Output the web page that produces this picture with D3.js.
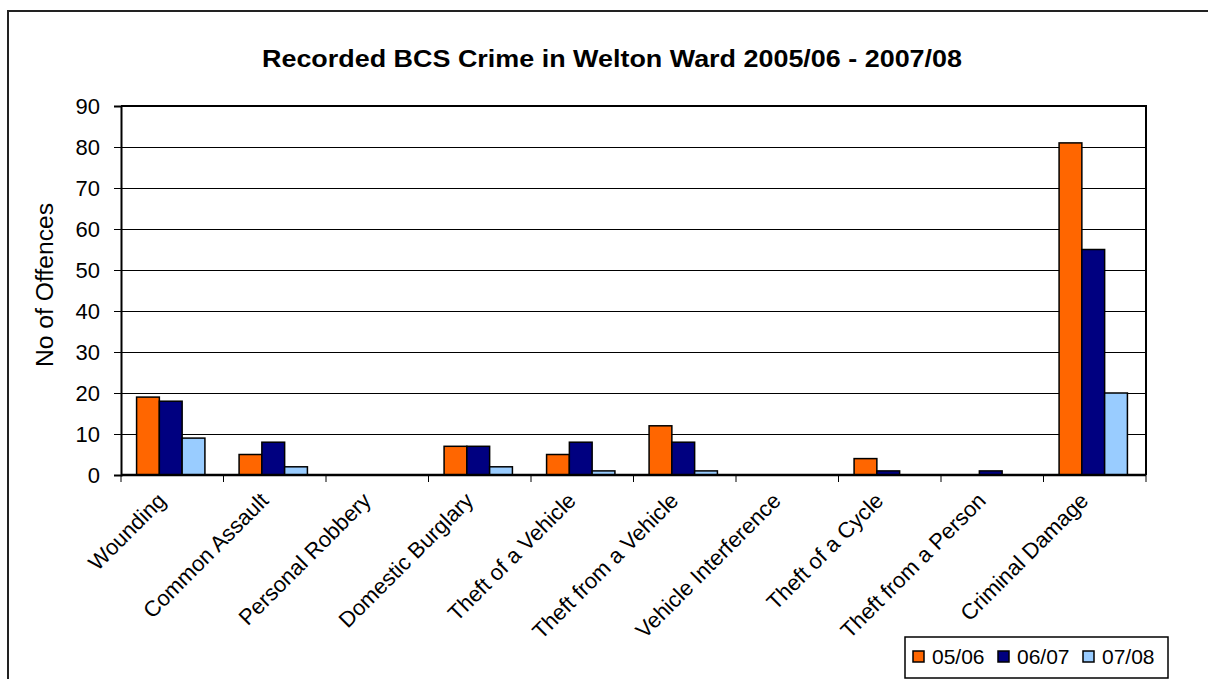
<!DOCTYPE html>
<html>
<head>
<meta charset="utf-8">
<script src="https://cdn.jsdelivr.net/npm/d3@7/dist/d3.min.js"></script>
<style>
  html, body { margin: 0; padding: 0; background: #fff; }
  svg { display: block; font-family: "Liberation Sans", Arial, sans-serif; }
</style>
</head>
<body>
<svg id="chart" width="1208" height="679"></svg>
<script>
const title = "Recorded BCS Crime in Welton Ward 2005/06 - 2007/08";
const yTitle = "No of Offences";
const categories = ["Wounding", "Common Assault", "Personal Robbery", "Domestic Burglary",
  "Theft of a Vehicle", "Theft from a Vehicle", "Vehicle Interference", "Theft of a Cycle",
  "Theft from a Person", "Criminal Damage"];
const seriesNames = ["05/06", "06/07", "07/08"];
const values0506 = [19, 5, 0, 7, 5, 12, 0, 4, 0, 81];
const values0607 = [18, 8, 0, 7, 8, 8, 0, 1, 1, 55];
const values0708 = [9, 2, 0, 2, 1, 1, 0, 0, 0, 20];
const yTicks = [0, 10, 20, 30, 40, 50, 60, 70, 80, 90];
const colors = ["#FF6600", "#000080", "#99CCFF"];

const seriesValues = [values0506, values0607, values0708];
const svg = d3.select("#chart");

const plot = { left: 121, right: 1146, top: 106, bottom: 475 };

// outer frame
svg.append("path")
  .attr("d", `M8,679 L8,11 L1208,11`)
  .attr("fill", "none").attr("stroke", "#222").attr("stroke-width", 2);

const x = d3.scaleBand().domain(categories).range([plot.left, plot.right]).paddingInner(0).paddingOuter(0);
const bw = x.bandwidth();
const barW = bw / 4.5;
const xs = d3.scaleBand().domain(seriesNames)
  .range([(bw - 3 * barW) / 2 - 1.5, (bw + 3 * barW) / 2 - 1.5]).padding(0);
const y = d3.scaleLinear().domain([0, 90]).range([plot.bottom, plot.top]);

// gridlines
svg.append("g").selectAll("line").data(yTicks.filter(t => t > 0 && t < 90)).join("line")
  .attr("x1", plot.left).attr("x2", plot.right)
  .attr("y1", d => Math.round(y(d)) + 0.5).attr("y2", d => Math.round(y(d)) + 0.5)
  .attr("stroke", "#000").attr("stroke-width", 1);

// plot border top/right
svg.append("path")
  .attr("d", `M${plot.left},${Math.round(y(90))} L${plot.right},${Math.round(y(90))} L${plot.right},${plot.bottom}`)
  .attr("fill", "none").attr("stroke", "#000").attr("stroke-width", 2);

// bars
const flat = [];
categories.forEach((c, i) => seriesNames.forEach((s, j) => flat.push({ c, s, j, v: seriesValues[j][i] })));
svg.append("g").selectAll("rect").data(flat.filter(d => d.v > 0)).join("rect")
  .attr("x", d => x(d.c) + xs(d.s))
  .attr("y", d => y(d.v))
  .attr("width", xs.bandwidth())
  .attr("height", d => y(0) - y(d.v))
  .attr("fill", d => colors[d.j])
  .attr("stroke", "#000").attr("stroke-width", 1.5);

// y axis
const yAxis = d3.axisLeft(y).tickValues(yTicks).tickSize(7).tickPadding(14);
const gy = svg.append("g").attr("transform", `translate(${plot.left},0)`).call(yAxis);
gy.select(".domain").attr("stroke", "#000").attr("stroke-width", 2);
gy.selectAll(".tick line").attr("stroke", "#000");
gy.selectAll(".tick text").attr("font-size", 22).attr("fill", "#000")
  .attr("font-family", "Liberation Sans, Arial, sans-serif");

// x axis baseline & ticks at band edges
const edges = categories.map(c => x(c)).concat([plot.right]);
svg.append("line").attr("x1", plot.left).attr("x2", plot.right)
  .attr("y1", plot.bottom).attr("y2", plot.bottom)
  .attr("stroke", "#000").attr("stroke-width", 2.5);
svg.append("g").selectAll("line").data(edges).join("line")
  .attr("x1", d => d).attr("x2", d => d)
  .attr("y1", plot.bottom).attr("y2", plot.bottom + 7)
  .attr("stroke", "#000").attr("stroke-width", 1);

// x labels
svg.append("g").selectAll("text").data(categories).join("text")
  .attr("transform", d => `translate(${x(d) + bw / 2 - 5},${plot.bottom + 27}) rotate(-45)`)
  .attr("text-anchor", "end")
  .attr("font-size", 22)
  .attr("fill", "#000")
  .text(d => d);

// y title
svg.append("text")
  .attr("transform", `translate(53,285) rotate(-90)`)
  .attr("text-anchor", "middle").attr("font-size", 23).attr("fill", "#000")
  .attr("textLength", 164).attr("lengthAdjust", "spacingAndGlyphs")
  .text(yTitle);

// title
svg.append("text")
  .attr("x", 612).attr("y", 67)
  .attr("text-anchor", "middle").attr("font-size", 24).attr("font-weight", "bold")
  .attr("textLength", 700).attr("lengthAdjust", "spacingAndGlyphs")
  .attr("fill", "#000")
  .text(title);

// legend
const lg = svg.append("g");
const itemW = 85;
const lgRight = 1168, lgTop = 637;
const lgLeft = lgRight - 3 * itemW - 8;
lg.append("rect").attr("x", lgLeft).attr("y", lgTop).attr("width", lgRight - lgLeft).attr("height", 41)
  .attr("fill", "#fff").attr("stroke", "#000").attr("stroke-width", 1.5);
seriesNames.forEach((s, j) => {
  const gx = lgLeft + 8 + j * itemW;
  lg.append("rect").attr("x", gx).attr("y", 651).attr("width", 11).attr("height", 11)
    .attr("fill", colors[j]).attr("stroke", "#000").attr("stroke-width", 1.5);
  lg.append("text").attr("x", gx + 19).attr("y", 664).attr("font-size", 21).attr("fill", "#000").text(s);
});
</script>
</body>
</html>
